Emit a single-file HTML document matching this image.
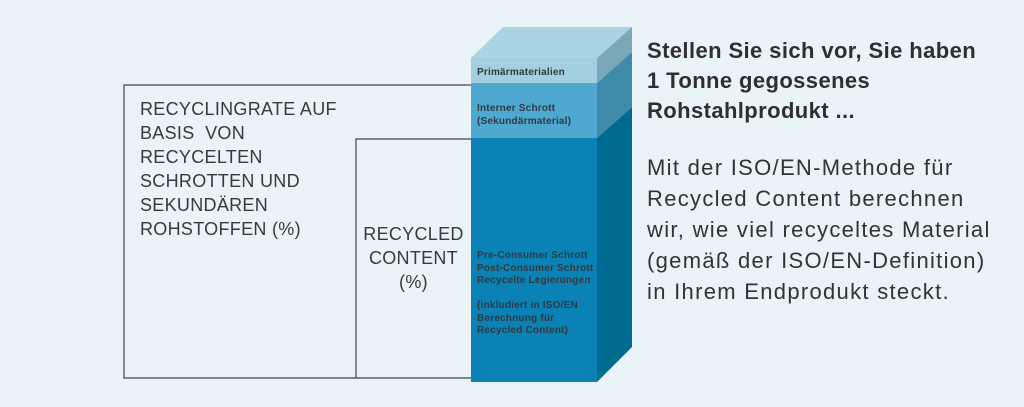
<!DOCTYPE html>
<html><head><style>
body{margin:0;width:1024px;height:407px;background:#e9f3f8;position:relative;overflow:hidden;font-family:"Liberation Sans",sans-serif;color:#333}
.t{position:absolute;font-size:18px;line-height:24px;color:#3a3a3a;letter-spacing:0.3px}
.s{position:absolute;font-size:10px;font-weight:bold;color:#2f3a40;line-height:12.5px;letter-spacing:0.2px}
</style></head><body>
<svg width="1024" height="407" style="position:absolute;left:0;top:0">
<polyline points="471,85 124,85 124,378 471,378" fill="none" stroke="#444" stroke-width="1.2"/>
<polyline points="471,139 356,139 356,378" fill="none" stroke="#444" stroke-width="1.2"/>
<polygon points="471,58 503,27 632,27 597,58" fill="#a9d4e3"/>
<rect x="471" y="58" width="126" height="25" fill="#a3cfe0"/>
<rect x="471" y="83" width="126" height="55" fill="#4fa8d0"/>
<rect x="471" y="138" width="126" height="244" fill="#0a82b5"/>
<polygon points="597,58 632,27 632,52 597,83" fill="#7aa8b8"/>
<polygon points="597,83 632,52 632,107 597,138" fill="#3e8aa8"/>
<polygon points="597,138 632,107 632,347 597,382" fill="#006a90"/>
</svg>
<div class="s" style="left:477px;top:67px">Primärmaterialien</div>
<div class="s" style="left:477px;top:103px">Interner Schrott<br>(Sekundärmaterial)</div>
<div class="s" style="left:477px;top:250px">Pre-Consumer Schrott<br>Post-Consumer Schrott<br>Recycelte Legierungen<br><br>(inkludiert in ISO/EN<br>Berechnung für<br>Recycled Content)</div>
<div class="t" style="left:140px;top:97px">RECYCLINGRATE AUF<br>BASIS &nbsp;VON<br>RECYCELTEN<br>SCHROTTEN UND<br>SEKUNDÄREN<br>ROHSTOFFEN (%)</div>
<div class="t" style="left:356px;top:222px;width:115px;text-align:center">RECYCLED<br>CONTENT<br>(%)</div>
<div style="position:absolute;left:647px;top:36px;font-size:22px;font-weight:bold;line-height:30px;color:#2f2f2f;letter-spacing:0.4px">Stellen Sie sich vor, Sie haben<br>1 Tonne gegossenes<br>Rohstahlprodukt ...</div>
<div style="position:absolute;left:647px;top:152px;font-size:22px;line-height:31px;color:#333;letter-spacing:1.3px">Mit der ISO/EN-Methode für<br>Recycled Content berechnen<br>wir, wie viel recyceltes Material<br>(gemäß der ISO/EN-Definition)<br>in Ihrem Endprodukt steckt.</div>
</body></html>
